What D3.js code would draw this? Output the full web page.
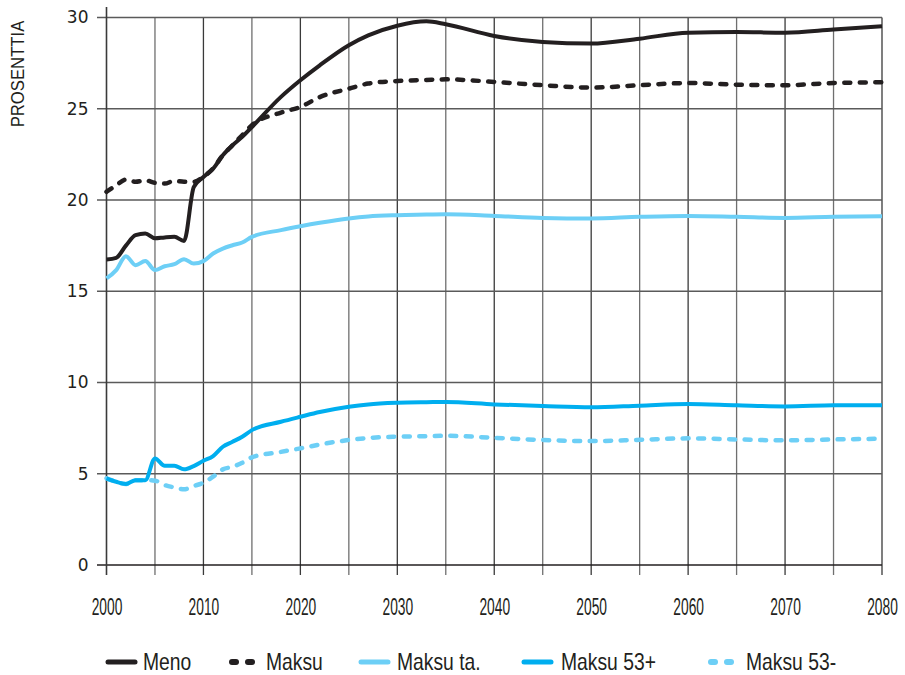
<!DOCTYPE html>
<html><head><meta charset="utf-8">
<script src="https://cdn.jsdelivr.net/npm/d3@7"></script>
<style>
body{margin:0;background:#fff;}
svg{display:block;}
</style></head>
<body>
<svg id="c" width="905" height="675"></svg>
<script>
const years = [2000,2001,2002,2003,2004,2005,2006,2007,2008,2009,2010,2011,2012,2013,2014,2015,2018,2020,2022,2025,2027,2030,2033,2035,2040,2045,2050,2055,2060,2065,2070,2075,2080];
const meno     = [16.74,16.83,17.5,18.07,18.16,17.9,17.95,17.98,17.76,20.7,21.26,21.72,22.45,23.0,23.46,24.0,25.65,26.56,27.38,28.48,29.02,29.55,29.79,29.63,28.99,28.66,28.57,28.84,29.17,29.2,29.17,29.34,29.52];
const maksu    = [20.45,20.8,21.12,21.0,21.08,20.94,20.9,21.05,21.0,21.0,21.27,21.74,22.45,23.0,23.55,24.1,24.79,25.1,25.64,26.1,26.38,26.52,26.58,26.61,26.47,26.29,26.16,26.29,26.41,26.32,26.29,26.41,26.45];
const maksuTa  = [15.7,16.16,16.92,16.43,16.66,16.16,16.37,16.48,16.76,16.52,16.65,17.07,17.34,17.52,17.67,17.98,18.35,18.56,18.75,18.99,19.1,19.17,19.2,19.22,19.13,19.02,18.99,19.08,19.13,19.08,19.02,19.08,19.11];
const maksu53p = [4.75,4.56,4.44,4.65,4.65,5.84,5.44,5.44,5.24,5.42,5.71,5.97,6.48,6.75,7.03,7.39,7.85,8.12,8.38,8.67,8.8,8.89,8.92,8.93,8.80,8.71,8.64,8.73,8.82,8.75,8.69,8.75,8.76];
const maksu53m = [4.75,4.56,4.44,4.65,4.65,4.62,4.38,4.25,4.15,4.33,4.51,4.84,5.24,5.38,5.6,5.9,6.2,6.39,6.6,6.85,6.96,7.03,7.06,7.08,6.97,6.85,6.79,6.86,6.94,6.88,6.83,6.88,6.92];
const xTicks = [2000,2010,2020,2030,2040,2050,2060,2070,2080];
const yTicks = [0,5,10,15,20,25,30];
const yLabel = "PROSENTTIA";

const series = [
  {name:"Meno", values:meno, color:"#231f20", dash:null},
  {name:"Maksu", values:maksu, color:"#231f20", dash:"6,9.5"},
  {name:"Maksu ta.", values:maksuTa, color:"#6dcff6", dash:null},
  {name:"Maksu 53+", values:maksu53p, color:"#00aeef", dash:null},
  {name:"Maksu 53-", values:maksu53m, color:"#6dcff6", dash:"6,9.5"}
];
const drawOrder = [4,3,2,1,0];
const condFont = '"Liberation Sans",Arial,sans-serif';

const svg = d3.select("#c");
const x = d3.scaleLinear().domain([2000,2080]).range([106.5,882]);
const y = d3.scaleLinear().domain([0,30]).range([565,17.5]);

// grid
const g = svg.append("g");
d3.range(2005,2081,5).forEach(yr=>{
  g.append("line").attr("x1",x(yr)).attr("x2",x(yr)).attr("y1",y(30)).attr("y2",575)
   .attr("stroke",yr%10===0?"#3a3a3a":"#6f6f6f").attr("stroke-width",1.3);
});
yTicks.forEach(v=>{
  g.append("line").attr("x1",97).attr("x2",x(2080)).attr("y1",y(v)).attr("y2",y(v))
   .attr("stroke",v===0?"#231f20":"#5a5a5a").attr("stroke-width",v===0?1.5:1.3);
});
g.append("line").attr("x1",x(2000)).attr("x2",x(2000)).attr("y1",7).attr("y2",575)
 .attr("stroke","#3a3a3a").attr("stroke-width",1.6);

// axis labels via d3 axes
const xAxis = svg.append("g").attr("transform","translate(0,565)")
  .call(d3.axisBottom(x).tickValues(xTicks).tickFormat(d3.format("d")).tickSize(0).tickPadding(0));
xAxis.select(".domain").remove();
xAxis.selectAll("text").attr("dy",null).attr("y",50).attr("font-size",23).attr("fill","#231f20")
  .attr("font-family",condFont).attr("transform","scale(0.6,1)");

const yAxis = svg.append("g").attr("transform","translate(106.5,0)")
  .call(d3.axisLeft(y).tickValues(yTicks).tickSize(0).tickPadding(18));
yAxis.select(".domain").remove();
yAxis.selectAll("text").attr("font-size",17).attr("fill","#231f20")
  .attr("font-family","'DejaVu Sans',sans-serif");

svg.append("text").attr("transform","translate(24,74) rotate(-90) scale(0.88,1)")
  .attr("text-anchor","middle").attr("font-size",19).attr("fill","#231f20")
  .attr("font-family",condFont)
  .text(yLabel);

// lines
const line = vals => d3.line().x((d,i)=>x(years[i])).y(d=>y(d)).curve(d3.curveMonotoneX)(vals);
drawOrder.forEach(i=>{
  const s = series[i];
  svg.append("path").attr("d",line(s.values)).attr("fill","none")
    .attr("stroke",s.color).attr("stroke-width",s.dash?4.5:4)
    .attr("stroke-linecap",s.dash?"round":"butt").attr("stroke-linejoin","round")
    .attr("stroke-dasharray",s.dash);
});

// legend
const legX = [106,229,359,522,708];
const legTextX = [143,266,397,561,746];
const ly = 662;
series.forEach((s,i)=>{
  if(s.dash){
    [0,1].forEach(k=>{
      svg.append("line").attr("x1",legX[i]+3+k*16).attr("x2",legX[i]+7+k*16)
        .attr("y1",ly).attr("y2",ly).attr("stroke",s.color).attr("stroke-width",6)
        .attr("stroke-linecap","round");
    });
  } else {
    svg.append("line").attr("x1",legX[i]+2).attr("x2",legX[i]+29).attr("y1",ly).attr("y2",ly)
      .attr("stroke",s.color).attr("stroke-width",5).attr("stroke-linecap","round");
  }
  svg.append("text").attr("transform",`translate(${legTextX[i]},${ly+8}) scale(0.84,1)`)
    .attr("font-size",23).attr("fill","#231f20").attr("font-family",condFont)
    .text(s.name);
});
</script>
</body></html>
